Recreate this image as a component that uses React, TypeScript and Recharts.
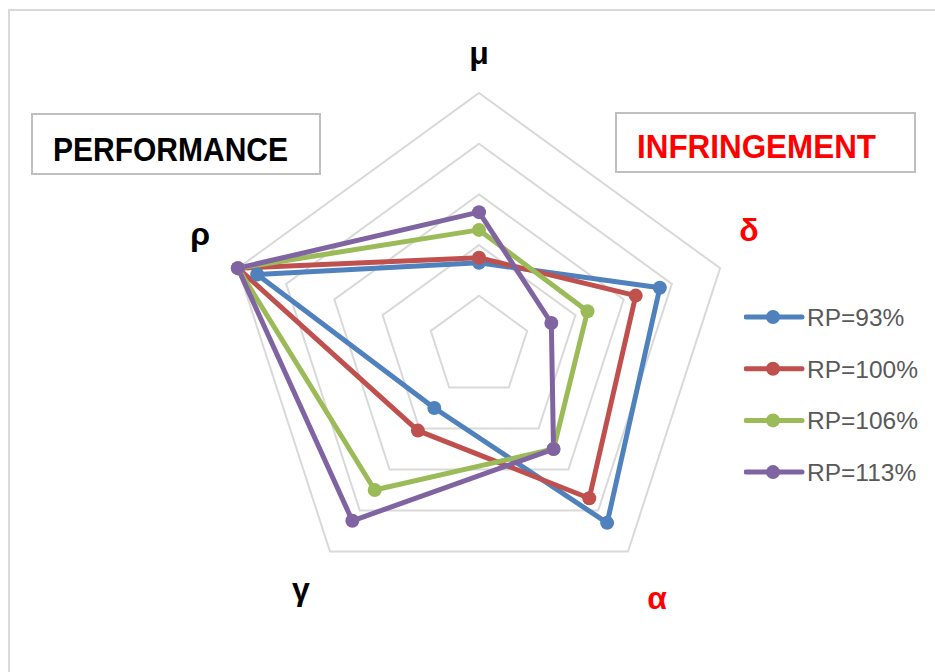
import React from "react"
import {
  RadarChart,
  Radar,
  PolarGrid,
  PolarAngleAxis,
  PolarRadiusAxis,
  Legend,
} from "recharts"

// axes, clockwise from the top
const AXES = ["μ", "δ", "α", "γ", "ρ"]
const RED_AXES = ["δ", "α"]
const RADIUS_TICKS = [0, 0.2, 0.4, 0.6, 0.8, 1]

const RP93 = [0.33, 0.75, 0.86, 0.3, 0.92]
const RP100 = [0.35, 0.65, 0.74, 0.41, 1.0]
const RP106 = [0.46, 0.45, 0.5, 0.7, 1.0]
const RP113 = [0.53, 0.3, 0.5, 0.85, 1.0]

const SERIES = [
  { key: "rp93", name: "RP=93%", color: "#4f81bd", values: RP93 },
  { key: "rp100", name: "RP=100%", color: "#c0504d", values: RP100 },
  { key: "rp106", name: "RP=106%", color: "#9bbb59", values: RP106 },
  { key: "rp113", name: "RP=113%", color: "#8064a2", values: RP113 },
]

const data = AXES.map((axis, i) => {
  const row: Record<string, number | string> = { axis }
  SERIES.forEach((s) => (row[s.key] = s.values[i]))
  return row
})

const W = 935
const H = 672
const CX = 479
const CY = 346.5
const R = 253.5
const LABEL_R = R + 46
const FONT = "'Liberation Sans', Arial, sans-serif"

// Excel doesn't place the category labels purely radially
const LABEL_NUDGE: Record<string, [number, number]> = {
  "μ": [0, 8],
  "δ": [-15, -22],
  "α": [2, 11],
  "γ": [-2, 2],
  "ρ": [6, -18],
}

// eslint-disable-next-line @typescript-eslint/no-explicit-any
function AxisTick(props: any) {
  const { x, y, payload } = props
  const dx = x - CX
  const dy = y - CY
  const len = Math.sqrt(dx * dx + dy * dy) || 1
  const label = payload.value as string
  const [nx, ny] = LABEL_NUDGE[label] ?? [0, 0]
  const lx = CX + (dx / len) * LABEL_R + nx
  const ly = CY + (dy / len) * LABEL_R + ny
  return (
    <text
      x={lx}
      y={ly}
      dy="0.28em"
      textAnchor="middle"
      fontFamily={FONT}
      fontWeight={700}
      fontSize={32}
      fill={RED_AXES.includes(label) ? "#ff0000" : "#000000"}
    >
      {label}
    </text>
  )
}

// eslint-disable-next-line @typescript-eslint/no-explicit-any
function LegendContent(props: any) {
  const order = SERIES.map((s) => s.name)
  // eslint-disable-next-line @typescript-eslint/no-explicit-any
  const items = [...(props.payload ?? [])].sort((a: any, b: any) => order.indexOf(a.value) - order.indexOf(b.value))
  const rowH = 51.7
  return (
    <svg width={185} height={rowH * 4} style={{ display: "block" }}>
      {/* eslint-disable-next-line @typescript-eslint/no-explicit-any */}
      {items.map((p: any, i: number) => {
        const yy = 25 + i * rowH
        return (
          <g key={p.value}>
            <line x1={2} y1={yy} x2={58} y2={yy} stroke={p.color} strokeWidth={5} strokeLinecap="round" />
            <circle cx={29} cy={yy} r={7} fill={p.color} />
            <text x={63} y={yy + 9} fontFamily={FONT} fontSize={24.5} fill="#595959">
              {p.value}
            </text>
          </g>
        )
      })}
    </svg>
  )
}

function makeDot(color: string) {
  // eslint-disable-next-line @typescript-eslint/no-explicit-any
  return (p: any) => <circle key={`dot-${p.index}`} cx={p.cx} cy={p.cy} r={7} fill={color} />
}

export default function App() {
  return (
    <div style={{ position: "absolute", left: 0, top: 0, width: W, height: H, overflow: "hidden", background: "#fff" }}>
      <svg width={W} height={H} style={{ position: "absolute", left: 0, top: 0 }}>
        <rect x={9} y={10} width={960} height={720} fill="none" stroke="#d9d9d9" strokeWidth={2} />
        <rect x={32} y={114} width={288} height={60} fill="#fff" stroke="#bfbfbf" strokeWidth={2} />
        <text
          x={53}
          y={161}
          fontFamily={FONT}
          fontWeight={700}
          fontSize={33}
          textLength={235}
          lengthAdjust="spacingAndGlyphs"
          fill="#000"
        >
          PERFORMANCE
        </text>
        <rect x={616} y={113} width={299} height={59} fill="#fff" stroke="#bfbfbf" strokeWidth={2} />
        <text
          x={637}
          y={158}
          fontFamily={FONT}
          fontWeight={700}
          fontSize={33}
          textLength={239}
          lengthAdjust="spacingAndGlyphs"
          fill="#ff0000"
        >
          INFRINGEMENT
        </text>
      </svg>
      <div style={{ position: "absolute", left: 0, top: 0 }}>
        <RadarChart
          width={W}
          height={H}
          data={data}
          cx={CX}
          cy={CY}
          outerRadius={R}
          margin={{ top: 0, right: 0, bottom: 0, left: 0 }}
        >
          <PolarGrid gridType="polygon" radialLines={false} stroke="#d9d9d9" strokeWidth={2} />
          <PolarAngleAxis dataKey="axis" tick={AxisTick} tickLine={false} axisLine={false} />
          <PolarRadiusAxis
            type="number"
            domain={[0, 1]}
            ticks={RADIUS_TICKS}
            tick={() => <g />}
            axisLine={false}
            tickLine={false}
          />
          {SERIES.map((s) => (
            <Radar
              key={s.key}
              dataKey={s.key}
              name={s.name}
              stroke={s.color}
              strokeWidth={5}
              strokeLinejoin="round"
              fill="none"
              fillOpacity={0}
              dot={makeDot(s.color)}
              isAnimationActive={false}
            />
          ))}
          <Legend
            layout="vertical"
            align="right"
            verticalAlign="top"
            content={LegendContent}
            wrapperStyle={{ position: "absolute", left: 744, top: 292, width: 185, right: "auto", bottom: "auto" }}
          />
        </RadarChart>
      </div>
    </div>
  )
}
